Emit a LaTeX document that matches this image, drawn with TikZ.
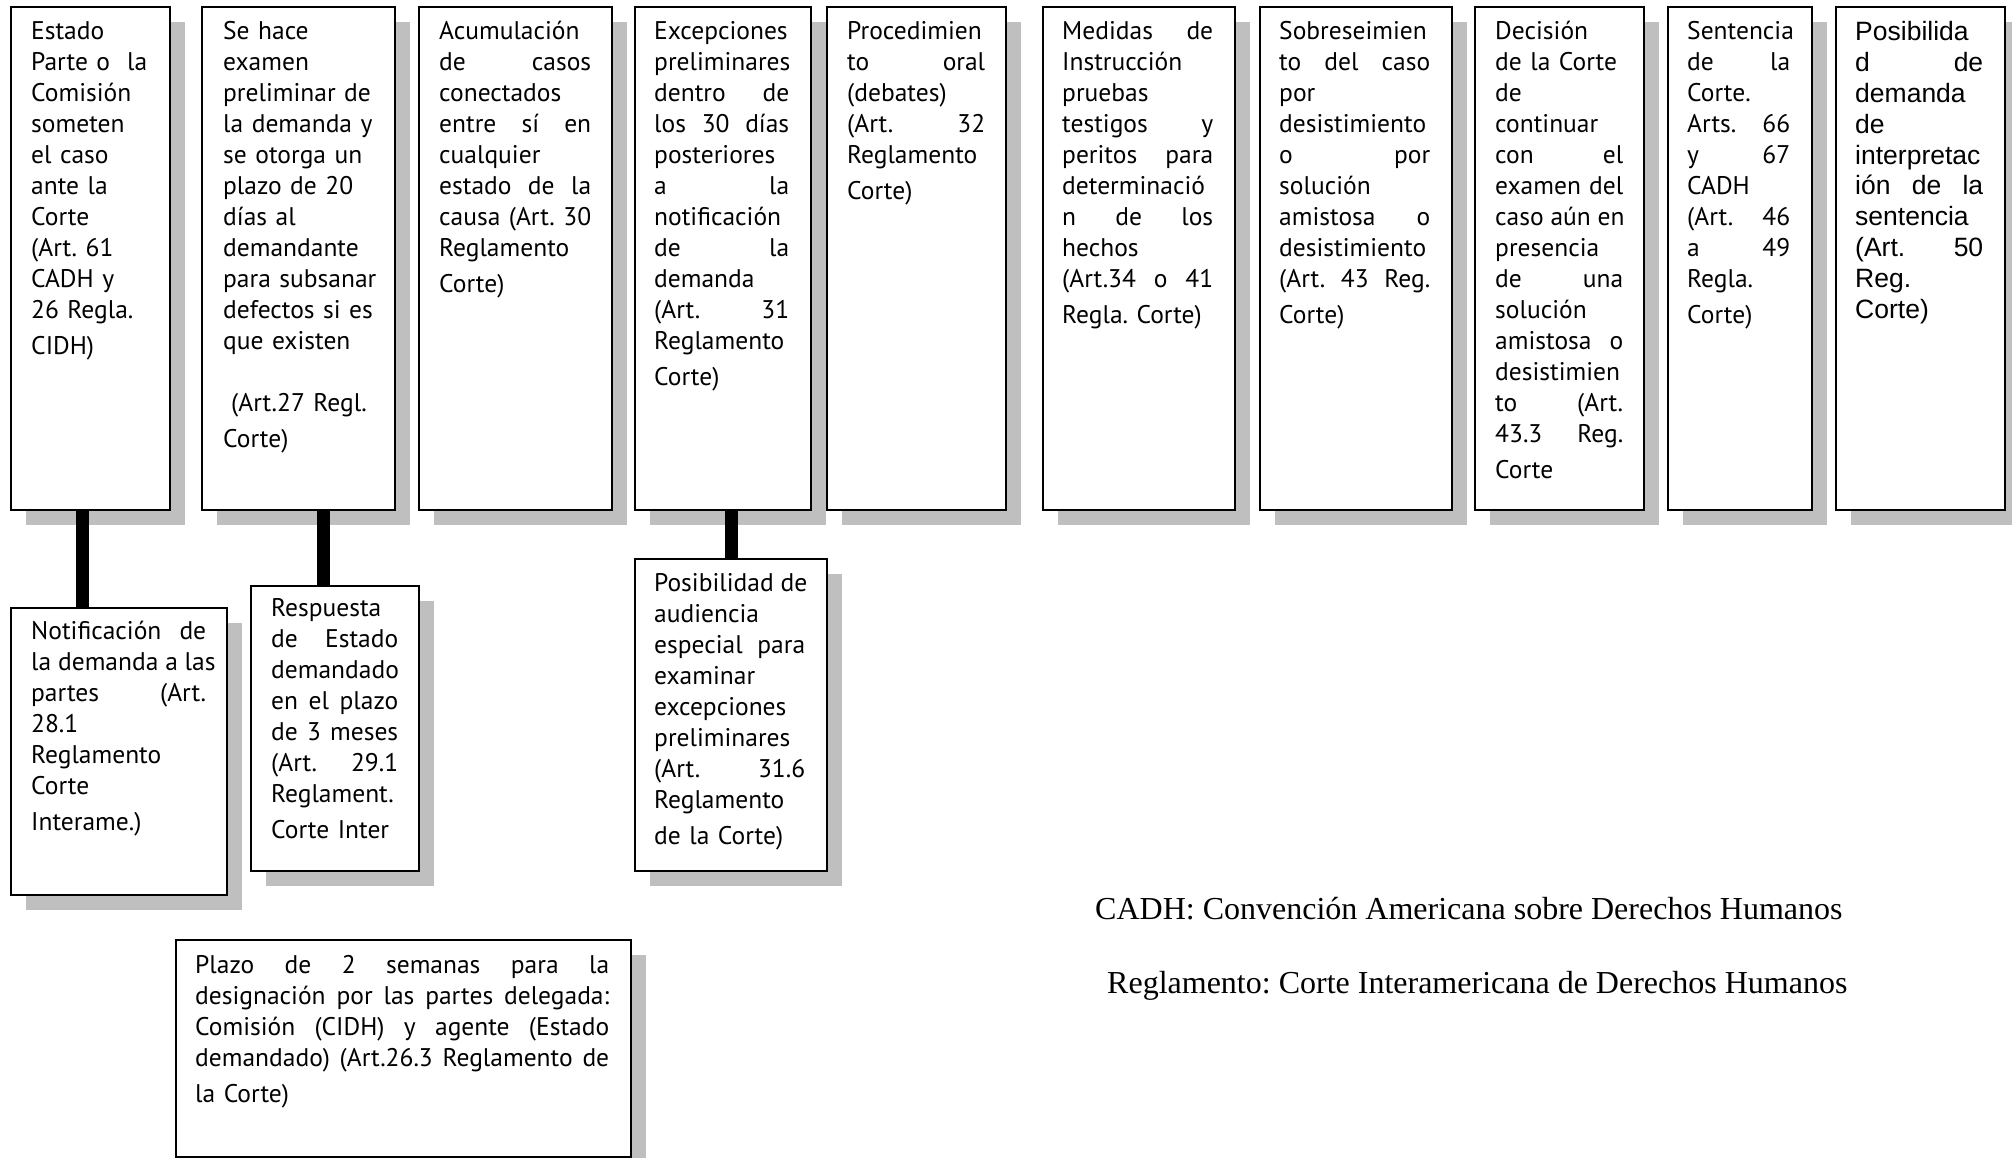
\documentclass[tikz,border=0pt]{standalone}
\usepackage{fontspec}
\setmainfont{PT Sans}
\newfontfamily\arialf{Liberation Sans}
\newfontfamily\timesf{Liberation Serif}
\usetikzlibrary{shadows}
\AtBeginDocument{\frenchspacing}
\newlength\jw
\newcommand\jl[1]{\leavevmode\hbox to\jw{\spaceskip=\fontdimen2\font plus 1fil\relax #1}}
\begin{document}
\begin{tikzpicture}[x=1pt,y=-1pt,
  box/.style={draw=black, line width=2pt, fill=white, anchor=north west, inner sep=0pt,
     drop shadow={shadow xshift=15pt, shadow yshift=-15pt, fill=black!25, opacity=1}},
  txt/.style={anchor=base west, inner sep=0pt, align=left, text width=470pt,
     font=\frenchspacing\fontsize{25.5}{31}\selectfont, execute at begin node={\setlength{\jw}{#1}}},
  atxt/.style={anchor=base west, inner sep=0pt, align=left, text width=470pt,
     font=\frenchspacing\arialf\fontsize{26.5}{30.8}\selectfont, execute at begin node={\setlength{\jw}{#1}}},
  legend/.style={anchor=base west, inner sep=0pt, font=\timesf\fontsize{32}{38}\selectfont},
  conn/.style={line width=13pt, black}]
\useasboundingbox (0,0) rectangle (2012,1158);

% top row boxes
\node[box, minimum width=159pt, minimum height=503pt] (b1) at (10,6) {};
\node[box, minimum width=193pt, minimum height=503pt] (b2) at (201,6) {};
\node[box, minimum width=193pt, minimum height=503pt] (b3) at (418,6) {};
\node[box, minimum width=176pt, minimum height=503pt] (b4) at (634,6) {};
\node[box, minimum width=179pt, minimum height=503pt] (b5) at (826,6) {};
\node[box, minimum width=192pt, minimum height=503pt] (b6) at (1042,6) {};
\node[box, minimum width=192pt, minimum height=503pt] (b7) at (1259,6) {};
\node[box, minimum width=169pt, minimum height=503pt] (b8) at (1474,6) {};
\node[box, minimum width=144pt, minimum height=503pt] (b9) at (1667,6) {};
\node[box, minimum width=169pt, minimum height=503pt] (b10) at (1835,6) {};

% lower boxes
\node[box, minimum width=216pt, minimum height=287pt] (n1) at (10,607) {};
\node[box, minimum width=168pt, minimum height=285pt] (n2) at (250,585) {};
\node[box, minimum width=192pt, minimum height=312pt] (n3) at (634,558) {};
\node[box, minimum width=455pt, minimum height=217pt] (n4) at (175,939) {};

% connectors
\draw[conn] ([xshift=-8pt]b1.south) -- ([xshift=-8pt]b1.south |- n1.north);
\draw[conn] ([xshift=24.5pt]b2.south) -- ([xshift=24.5pt]b2.south |- n2.north);
\draw[conn] (n3.north |- b4.south) -- (n3.north);

% texts top row
\node[txt=117pt] (t1) at (31,39.5) {Estado\\ Parte o\ \ la\\ Comisión\\ someten\\ el caso\\ ante la\\ Corte\\ (Art. 61\\ CADH y\\ 26 Regla.\\[5pt] CIDH)};
\node[txt=152pt] (t2) at (223,39.5) {Se hace\\ examen\\ preliminar de\\ la demanda y\\ se otorga un\\ plazo de 20\\ días al\\ demandante\\ para subsanar\\ defectos si es\\ que existen\\[31pt] \hspace*{8pt}(Art.27 Regl.\\[5pt] Corte)};
\node[txt=152pt] (t3) at (439,39.5) {Acumulación\\ \jl{de casos}\\ conectados\\ \jl{entre sí en}\\ cualquier\\ \jl{estado de la}\\ \jl{causa (Art. 30}\\ Reglamento\\[5pt] Corte)};
\node[txt=135pt] (t4) at (654,39.5) {Excepciones\\ preliminares\\ \jl{dentro de}\\ \jl{los 30 días}\\ posteriores\\ \jl{a la}\\ notificación\\ \jl{de la}\\ demanda\\ \jl{(Art. 31}\\ Reglamento\\[5pt] Corte)};
\node[txt=138pt] (t5) at (847,39.5) {Procedimien\\ \jl{to oral}\\ (debates)\\ \jl{(Art. 32}\\ Reglamento\\[5pt] Corte)};
\node[txt=151pt] (t6) at (1062,39.5) {\jl{Medidas de}\\ Instrucción\\ pruebas\\ \jl{testigos y}\\ \jl{peritos para}\\ determinació\\ \jl{n de los}\\ hechos\\ \jl{(Art.34 o 41}\\[5pt] Regla. Corte)};
\node[txt=151pt] (t7) at (1279,39.5) {Sobreseimien\\ \jl{to del caso}\\ por\\ desistimiento\\ \jl{o por}\\ solución\\ \jl{amistosa o}\\ desistimiento\\ \jl{(Art. 43 Reg.}\\[5pt] Corte)};
\node[txt=128pt] (t8) at (1495,39.5) {Decisión\\ de la Corte\\ de\\ continuar\\ \jl{con el}\\ \jl{examen del}\\ \jl{caso aún en}\\ presencia\\ \jl{de una}\\ solución\\ \jl{amistosa o}\\ desistimien\\ \jl{to (Art.}\\ \jl{43.3 Reg.}\\[5pt] Corte};
\node[txt=103pt] (t9) at (1687,39.5) {Sentencia\\ \jl{de la}\\ Corte.\\ \jl{Arts. 66}\\ \jl{y 67}\\ CADH\\ \jl{(Art. 46}\\ \jl{a 49}\\ Regla.\\[5pt] Corte)};
\node[atxt=128pt] (t10) at (1855,41) {Posibilida\\ \jl{d de}\\ demanda\\ de\\ interpretac\\ \jl{ión de la}\\ sentencia\\ \jl{(Art. 50}\\ Reg.\\ Corte)};

% texts lower boxes
\node[txt=175pt] (m1) at (31,639) {\jl{Notificación de}\\ \jl{la demanda a las}\\ \jl{partes (Art.}\\ 28.1\\ Reglamento\\ Corte\\[5pt] Interame.)};
\node[txt=127pt] (m2) at (271,616) {Respuesta\\ \jl{de Estado}\\ demandado\\ \jl{en el plazo}\\ \jl{de 3 meses}\\ \jl{(Art. 29.1}\\ Reglament.\\[5pt] Corte Inter};
\node[txt=151pt] (m3) at (654,591) {\jl{Posibilidad de}\\ audiencia\\ \jl{especial para}\\ examinar\\ excepciones\\ preliminares\\ \jl{(Art. 31.6}\\ Reglamento\\[5pt] de la Corte)};
\node[txt=414pt] (m4) at (195,973) {\jl{Plazo de 2 semanas para la}\\ \jl{designación por las partes delegada:}\\ \jl{Comisión (CIDH) y agente (Estado}\\ \jl{demandado) (Art.26.3 Reglamento de}\\[5pt] la Corte)};

% legend
\node[legend] (l1) at (1095,919) {CADH: Convención Americana sobre Derechos Humanos};
\node[legend] (l2) at (1107,993) {Reglamento: Corte Interamericana de Derechos Humanos};
\end{tikzpicture}
\end{document}
